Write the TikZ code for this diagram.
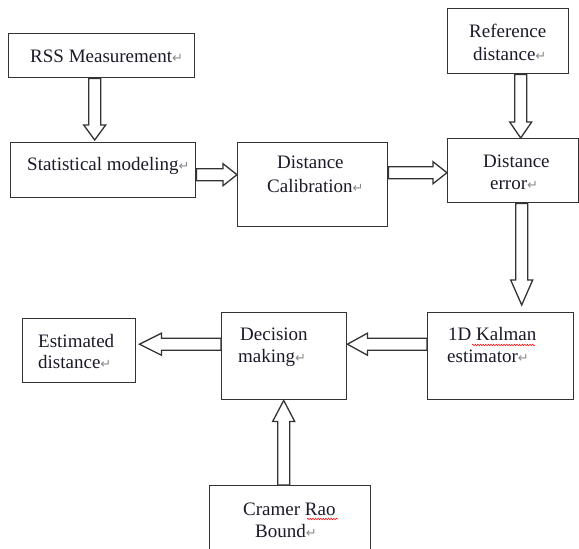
\documentclass[tikz,border=0pt]{standalone}
\usepackage{fontspec}
\setmainfont{Liberation Serif}
\newfontfamily\dvs{DejaVu Sans}
\usetikzlibrary{calc,decorations.pathmorphing}
\definecolor{linec}{HTML}{333333}
\definecolor{txtc}{HTML}{1A1A28}
\definecolor{retc}{HTML}{8A8A8A}
\newcommand\tnr{\fontsize{19}{22}\selectfont}
\newcommand\rt{{\dvs\fontsize{13}{13}\selectfont\textcolor{retc}{↵}}}
\tikzset{
  box/.style={draw=linec, line width=1.4pt, inner sep=0pt, anchor=north west},
  lbl/.style={anchor=base west, inner sep=0pt, font=\tnr, text=txtc},
  blockarrow/.style={draw=linec, line width=1.3pt, fill=white, line join=miter},
  spell/.style={draw=red, line width=0.5pt, decorate,
    decoration={snake, amplitude=0.8pt, segment length=2.6pt}}
}
\newcommand\barrow[3][15]{%
  \coordinate (bs) at #2; \coordinate (be) at #3;
  \coordinate (bh) at ($(be)!#1pt!(bs)$);
  \draw[blockarrow] ($(bs)!6pt!90:(be)$) -- ($(bh)!6pt!90:(be)$)
    -- ($(bh)!11pt!90:(be)$) -- (be) -- ($(bh)!11pt!-90:(be)$)
    -- ($(bh)!6pt!-90:(be)$) -- ($(bs)!6pt!-90:(be)$) -- cycle;}
\begin{document}
\begin{tikzpicture}[x=1pt,y=-1pt]
\useasboundingbox (0,0) rectangle (579,549);
% boxes
\node[box, minimum width=186pt, minimum height=44pt] (rss) at (8,33) {};
\node[box, minimum width=185pt, minimum height=55pt] (stat) at (10,142) {};
\node[box, minimum width=150pt, minimum height=84pt] (cal) at (237,142) {};
\node[box, minimum width=121pt, minimum height=65pt] (ref) at (447,8) {};
\node[box, minimum width=131pt, minimum height=64pt] (err) at (447,138) {};
\node[box, minimum width=146pt, minimum height=87pt] (kal) at (427,312) {};
\node[box, minimum width=125pt, minimum height=87pt] (dec) at (221,312) {};
\node[box, minimum width=113pt, minimum height=64pt] (est) at (22,318) {};
\node[box, minimum width=161pt, minimum height=70pt] (cra) at (209,485) {};
% arrows
\barrow{($(rss.south)+(-7,0)$)}{($(stat.north)+(-8.5,-2)$)}
\barrow[14]{($(stat.east)+(0,4.5)$)}{($(cal.west)+(0,-10)$)}
\barrow[14]{($(cal.east)+(0,-12)$)}{($(err.west)+(0,2)$)}
\barrow[16]{($(ref.south)+(12.5,0)$)}{($(err.north)+(7.5,0)$)}
\barrow[25]{($(err.south)+(8.5,0)$)}{($(kal.north)+(21,-7)$)}
\barrow[20]{($(kal.west)+(0,-12)$)}{($(dec.east)+(0,-12)$)}
\barrow[22]{($(dec.west)+(0,-12)$)}{($(est.east)+(3,-6.5)$)}
\barrow[21]{($(cra.north)+(-6.5,0)$)}{($(dec.south)+(-0.5,0)$)}
% texts
\node[lbl] (rssT) at (30,62) {RSS Measurement\rt};
\node[lbl] (statT) at (27,170) {Statistical modeling\rt};
\node[lbl] (calT1) at (277,168) {Distance};
\node[lbl] (calT2) at (267,192) {Calibration\rt};
\node[lbl] (refT1) at (469,37) {Reference};
\node[lbl] (refT2) at (473,60) {distance\rt};
\node[lbl] (errT1) at (483,167) {Distance};
\node[lbl] (errT2) at (490,189) {error\rt};
\node[lbl] (estT1) at (38,347) {Estimated};
\node[lbl] (estT2) at (38,368) {distance\rt};
\node[lbl] (decT1) at (240,340) {Decision};
\node[lbl] (decT2) at (238,362) {making\rt};
\node[lbl] (kalT1) at (448,340) {1D Kalman};
\node[lbl] (kalT2) at (447,362) {estimator\rt};
\node[lbl] (craT1) at (243,515) {Cramer Rao};
\node[lbl] (craT2) at (255,537) {Bound\rt};
% spelling marks
\draw[spell] (472,345) -- (535,345);
\draw[spell] (307,519) -- (338,519);
\end{tikzpicture}
\end{document}
